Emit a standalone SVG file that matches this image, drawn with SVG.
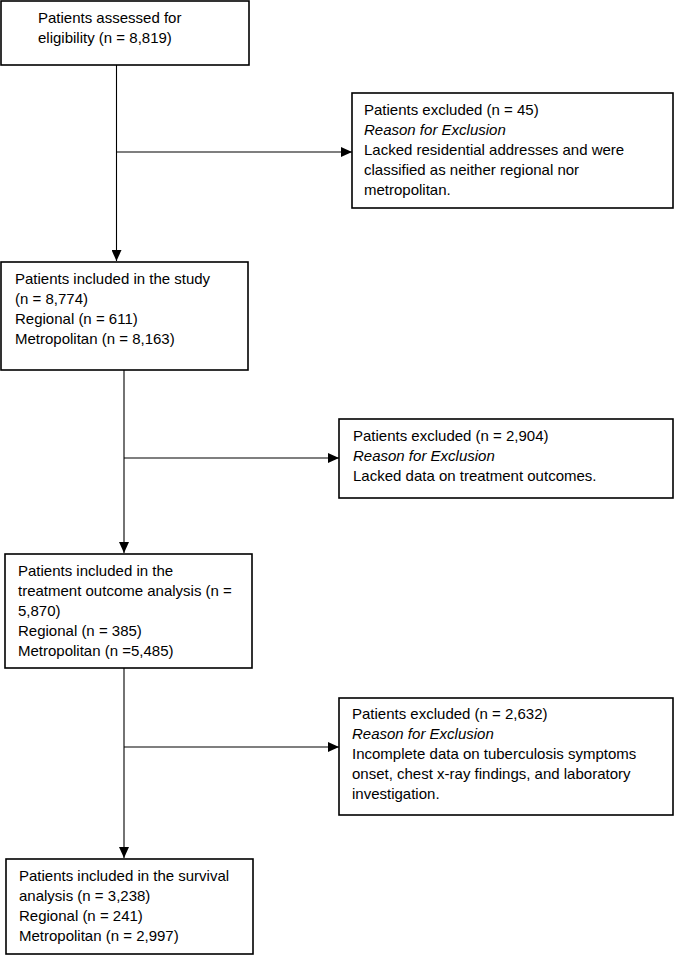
<svg xmlns="http://www.w3.org/2000/svg" width="675" height="956" viewBox="0 0 675 956">
<style>
.box{fill:#fff;stroke:#000;stroke-width:1.6}
.t{font-family:"Liberation Sans",Arial,sans-serif;font-size:15px;fill:#000}
.i{font-style:italic}
.c{fill:none;stroke:#000;stroke-width:1.1}
</style>
<defs>
<marker id="ah" markerUnits="userSpaceOnUse" markerWidth="12" markerHeight="10" refX="11" refY="5" orient="auto">
<path d="M0,0 L11,5 L0,10 Z" fill="#000"/>
</marker>
</defs>
<rect width="675" height="956" fill="#fff"/>
<g id="connectors">
<line class="c" x1="116.5" y1="65" x2="116.5" y2="261" marker-end="url(#ah)"/>
<line class="c" x1="116.5" y1="152" x2="352" y2="152" marker-end="url(#ah)"/>
<line class="c" x1="124" y1="370" x2="124" y2="553" marker-end="url(#ah)"/>
<line class="c" x1="124" y1="458" x2="339" y2="458" marker-end="url(#ah)"/>
<line class="c" x1="124" y1="668" x2="124" y2="858" marker-end="url(#ah)"/>
<line class="c" x1="124" y1="747" x2="339" y2="747" marker-end="url(#ah)"/>
</g>
<g id="assessed">
<rect class="box" x="1" y="1" width="248" height="64"/>
<text class="t" x="38" y="23">Patients assessed for</text>
<text class="t" x="38" y="43">eligibility (n = 8,819)</text>
</g>
<g id="excluded1">
<rect class="box" x="352" y="93" width="321" height="115"/>
<text class="t" x="364" y="115">Patients excluded (n = 45)</text>
<text class="t i" x="364" y="135">Reason for Exclusion</text>
<text class="t" x="364" y="155">Lacked residential addresses and were</text>
<text class="t" x="364" y="175">classified as neither regional nor</text>
<text class="t" x="364" y="195">metropolitan.</text>
</g>
<g id="included">
<rect class="box" x="1" y="262" width="247" height="108"/>
<text class="t" x="15" y="284">Patients included in the study</text>
<text class="t" x="15" y="304">(n = 8,774)</text>
<text class="t" x="15" y="324">Regional (n = 611)</text>
<text class="t" x="15" y="344">Metropolitan (n = 8,163)</text>
</g>
<g id="excluded2">
<rect class="box" x="339" y="419" width="334" height="79"/>
<text class="t" x="353" y="441">Patients excluded (n = 2,904)</text>
<text class="t i" x="353" y="461">Reason for Exclusion</text>
<text class="t" x="353" y="481">Lacked data on treatment outcomes.</text>
</g>
<g id="outcome">
<rect class="box" x="5" y="554" width="247" height="114"/>
<text class="t" x="18" y="576">Patients included in the</text>
<text class="t" x="18" y="596">treatment outcome analysis (n =</text>
<text class="t" x="18" y="616">5,870)</text>
<text class="t" x="18" y="636">Regional (n = 385)</text>
<text class="t" x="18" y="656">Metropolitan (n =5,485)</text>
</g>
<g id="excluded3">
<rect class="box" x="339" y="698" width="334" height="117"/>
<text class="t" x="352" y="719">Patients excluded (n = 2,632)</text>
<text class="t i" x="352" y="739">Reason for Exclusion</text>
<text class="t" x="352" y="759">Incomplete data on tuberculosis symptoms</text>
<text class="t" x="352" y="779">onset, chest x-ray findings, and laboratory</text>
<text class="t" x="352" y="799">investigation.</text>
</g>
<g id="survival">
<rect class="box" x="6" y="859" width="247" height="95"/>
<text class="t" x="19" y="881">Patients included in the survival</text>
<text class="t" x="19" y="901">analysis (n = 3,238)</text>
<text class="t" x="19" y="921">Regional (n = 241)</text>
<text class="t" x="19" y="941">Metropolitan (n = 2,997)</text>
</g>
</svg>
